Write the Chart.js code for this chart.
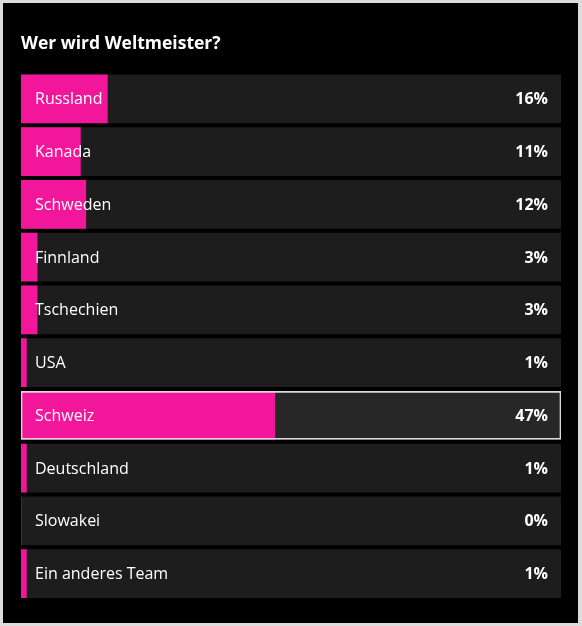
<!DOCTYPE html>
<html>
<head>
<meta charset="utf-8">
<script src="https://cdn.jsdelivr.net/npm/chart.js@4.4.1/dist/chart.umd.min.js"></script>
<style>
  html, body { margin: 0; padding: 0; background: #dcdcdc; }
  #box { position: absolute; left: 3px; top: 3px; width: 575px; height: 620px; background: #000; }
  #chart { display: block; }
</style>
</head>
<body>
<div id="box"><canvas id="chart" width="575" height="620"></canvas></div>
<script>
// Umfrage-Daten
const teams = ['Russland', 'Kanada', 'Schweden', 'Finnland', 'Tschechien', 'USA', 'Schweiz', 'Deutschland', 'Slowakei', 'Ein anderes Team'];
const votes = [16, 11, 12, 3, 3, 1, 47, 1, 0, 1];
const full = teams.map(() => 100);
const highlight = 'Schweiz';

const pink = '#f2169b';
const track = '#1d1d1d';
const trackHi = '#272727';

// Beschriftungen direkt in die Balken zeichnen
const barText = {
    id: 'barText',
    afterDatasetsDraw(chart) {
        const ctx = chart.ctx;
        const area = chart.chartArea;
        const y = chart.scales.y;
        ctx.save();
        ctx.fillStyle = '#ffffff';
        ctx.textBaseline = 'middle';
        teams.forEach((t, i) => {
            const py = y.getPixelForValue(i) + 1;
            ctx.font = '16px "Open Sans"';
            ctx.textAlign = 'left';
            ctx.fillText(t, area.left + 14, py);
            ctx.font = 'bold 16px "Open Sans"';
            ctx.textAlign = 'right';
            ctx.fillText(votes[i] + '%', area.right - 13, py);
        });
        ctx.restore();
    }
};

const ctx = document.getElementById('chart').getContext('2d');
const chart = new Chart(ctx, {
    type: 'bar',
    data: {
        labels: teams,
        datasets: [{
            // Rahmen um die markierte Zeile
            data: full,
            backgroundColor: 'rgba(0,0,0,0)',
            borderColor: teams.map(t => t === highlight ? '#d9d9d9' : 'rgba(0,0,0,0)'),
            borderWidth: teams.map(t => t === highlight ? 1 : 0),
            borderSkipped: false
        }, {
            data: votes,
            backgroundColor: pink,
            borderWidth: 0
        }, {
            data: full,
            backgroundColor: teams.map(t => t === highlight ? trackHi : track),
            borderWidth: 0
        }]
    },
    options: {
        indexAxis: 'y',
        responsive: false,
        animation: false,
        events: [],
        datasets: {
            bar: { grouped: false, barThickness: 48 }
        },
        layout: {
            padding: { left: 18, right: 17, top: 0, bottom: 23 }
        },
        scales: {
            x: { display: false, min: 0, max: 100 },
            y: { display: false }
        },
        plugins: {
            legend: { display: false },
            tooltip: { enabled: false },
            title: {
                display: true,
                text: 'Wer wird Weltmeister?',
                align: 'start',
                color: '#ffffff',
                font: { family: '"Open Sans"', size: 17.5, weight: 'bold' },
                padding: { top: 30.5, bottom: 18 }
            }
        }
    },
    plugins: [barText]
});
</script>
</body>
</html>
